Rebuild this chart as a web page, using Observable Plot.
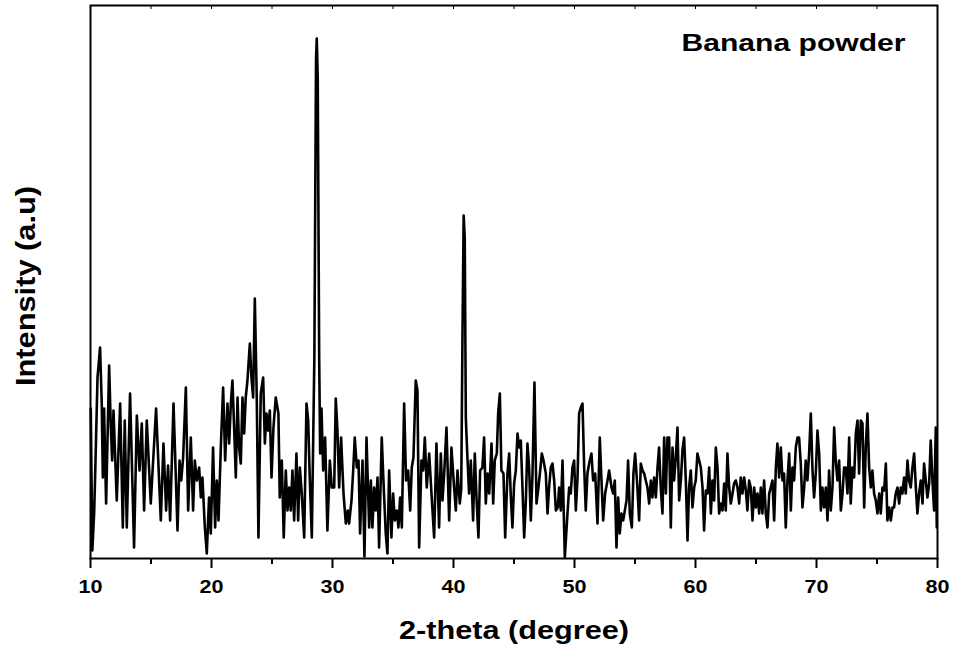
<!DOCTYPE html>
<html><head><meta charset="utf-8">
<script src="https://cdn.jsdelivr.net/npm/d3@7"></script>
<script src="https://cdn.jsdelivr.net/npm/@observablehq/plot@0.6"></script>
<style>body{margin:0;background:#fff}</style>
</head><body><div id="chart"></div>
<script>
const twoTheta = [
10.02,10.15,10.30,10.38,10.58,10.79,10.93,11.02,11.12,11.29,11.54,11.68,11.79,11.90,12.17,12.45,12.67,12.83,13.00,13.27,13.60,13.83,14.05,14.24,14.43,14.65,14.98,15.42,15.81,16.03,16.25,16.41,16.58,16.86,17.19,17.36,17.50,17.65,
17.88,18.07,18.29,18.48,18.62,18.79,18.98,19.12,19.25,19.45,19.61,19.80,19.94,20.13,20.30,20.44,20.58,20.77,20.96,21.13,21.32,21.46,21.60,21.73,21.87,22.01,22.15,22.28,22.42,22.56,22.70,22.83,22.97,23.06,23.17,23.30,23.44,23.58,23.74,23.88,24.07,24.27,24.41,24.54,24.68,24.82,24.96,25.12,
25.31,25.53,25.64,25.81,25.97,26.14,26.28,26.42,26.55,26.69,26.83,27.02,27.16,27.30,27.46,27.66,27.85,27.99,28.12,28.29,28.50,28.64,28.70,28.78,28.90,28.98,29.09,29.23,29.39,29.58,29.78,29.94,30.14,30.27,30.41,30.55,30.71,30.91,31.10,31.26,31.37,31.57,31.71,31.84,32.01,32.15,32.28,32.48,32.64,32.81,33.03,
33.17,33.30,33.44,33.58,33.72,33.85,34.07,34.21,34.40,34.54,34.68,34.87,35.01,35.15,35.31,35.45,35.59,35.73,35.92,36.08,36.25,36.42,36.55,36.69,36.88,37.02,37.16,37.35,37.49,37.63,37.79,37.99,38.18,38.40,38.59,38.81,38.95,39.09,39.23,39.42,39.64,39.83,40.05,40.19,40.33,40.52,40.64,40.74,40.84,40.93,41.02,41.15,
41.29,41.43,41.62,41.76,41.90,42.06,42.20,42.39,42.53,42.67,42.81,42.95,43.14,43.28,43.41,43.58,43.69,43.83,43.96,44.13,44.27,44.46,44.60,44.74,44.87,45.01,45.15,45.29,45.42,45.56,45.70,45.84,45.98,46.11,46.25,46.39,46.53,46.69,46.86,47.02,47.19,47.30,47.44,47.63,47.77,47.90,48.04,48.18,48.32,48.46,48.62,48.73,48.87,49.01,49.20,
49.42,49.56,49.69,49.83,49.97,50.11,50.25,50.38,50.52,50.66,50.80,50.93,51.07,51.21,51.40,51.54,51.71,51.90,52.09,52.23,52.37,52.53,52.73,52.86,53.06,53.19,53.33,53.47,53.61,53.74,53.88,54.02,54.16,54.30,54.43,54.57,54.74,54.87,55.01,55.20,55.34,55.48,55.62,55.76,55.89,56.03,56.17,56.31,56.44,56.58,56.72,
56.86,56.99,57.13,57.27,57.41,57.55,57.68,57.82,57.96,58.10,58.23,58.37,58.51,58.65,58.79,58.92,59.06,59.20,59.34,59.47,59.61,59.75,59.89,60.02,60.16,60.30,60.44,60.58,60.71,60.85,60.99,61.13,61.27,61.40,61.54,61.68,61.82,61.95,62.09,62.23,62.37,62.50,62.64,62.78,62.92,63.06,63.19,63.33,63.47,63.61,63.74,63.88,64.02,64.16,64.29,64.43,64.57,
64.71,64.85,64.98,65.12,65.26,65.40,65.53,65.67,65.81,65.95,66.09,66.22,66.36,66.50,66.64,66.77,66.91,67.05,67.19,67.32,67.46,67.60,67.74,67.88,68.01,68.15,68.29,68.43,68.56,68.70,68.84,68.98,69.11,69.25,69.39,69.53,69.67,69.80,69.94,70.08,70.22,70.36,70.49,70.63,70.77,70.91,71.04,71.18,71.32,71.46,71.59,71.73,71.87,72.01,72.15,72.28,
72.42,72.56,72.70,72.83,72.97,73.11,73.25,73.39,73.52,73.66,73.80,73.94,74.07,74.21,74.35,74.49,74.62,74.76,74.90,75.04,75.18,75.31,75.45,75.59,75.73,75.86,76.00,76.14,76.28,76.41,76.55,76.69,76.83,76.97,77.10,77.24,77.38,77.52,77.65,77.79,77.93,78.07,78.21,78.34,78.48,78.62,78.76,78.89,79.03,79.17,79.31,79.44,79.58,79.72,79.86,79.94
];
const intensity = [
150,8,45,81,181,211,155,81,150,55,193,131,98,148,58,155,31,138,31,165,11,143,88,135,48,138,55,150,38,115,48,93,38,155,28,98,78,100,
171,48,121,48,98,78,91,61,81,31,5,61,25,111,31,78,38,111,171,98,155,115,155,178,131,81,161,111,95,161,125,161,178,195,215,181,161,260,161,21,165,181,115,145,128,148,81,131,
161,145,61,98,21,88,48,71,48,88,38,105,38,91,65,21,155,138,81,21,200,500,520,480,200,105,150,88,121,28,98,71,71,160,128,71,121,65,35,48,35,58,88,121,91,98,25,98,2,121,31,
78,31,71,48,81,11,121,78,25,5,88,21,65,38,48,31,61,31,155,78,88,48,91,101,178,168,11,98,88,121,71,105,65,21,115,31,105,58,85,131,38,111,71,48,88,55,70,220,343,320,140,101,
65,98,38,105,61,21,88,91,121,55,85,65,115,55,98,105,145,165,88,85,21,85,105,61,31,75,88,125,111,118,71,21,58,115,91,38,85,176,55,71,91,105,98,85,45,71,91,95,78,48,51,71,48,98,1,
45,71,65,91,98,48,81,145,151,155,91,48,85,95,105,78,85,35,121,78,38,65,78,88,71,65,78,11,61,25,45,38,48,58,98,45,31,85,105,71,38,95,88,85,78,71,55,78,61,81,61,
91,111,71,45,121,65,121,121,31,111,78,101,131,58,78,108,121,78,18,71,88,51,71,78,105,98,91,71,28,68,65,91,45,78,58,111,91,45,55,48,75,48,105,71,55,65,75,78,71,55,81,65,81,68,48,78,71,
38,71,51,65,45,71,45,78,45,31,65,71,78,38,91,115,81,111,78,85,31,78,105,48,91,78,111,121,121,95,51,71,98,78,105,145,88,61,85,128,105,48,71,51,71,38,88,48,71,131,98,78,98,48,65,91,
91,65,121,55,91,81,125,138,85,138,135,51,111,145,91,71,88,65,58,45,65,45,71,68,95,38,51,38,51,51,65,71,55,71,65,81,65,98,78,71,91,105,71,45,65,78,55,95,78,61,75,118,78,48,131,31
];
const majorTicks = [10, 20, 30, 40, 50, 60, 70, 80];
const minorTicks = [15, 25, 35, 45, 55, 65, 75];
const topTicks = [15, 20, 25, 30, 35, 40, 45, 50, 55, 60, 65, 70, 75];
const xTitle = "2-theta (degree)";
const yTitle = "Intensity (a.u)";
const legendLabel = "Banana powder";

const data = twoTheta.map((t, i) => ({t, v: intensity[i]}));
const noLabel = () => "";

const chart = Plot.plot({
  width: 953, height: 650,
  marginLeft: 90, marginRight: 16, marginTop: 5, marginBottom: 92,
  style: {fontFamily: '"Liberation Sans", Arial, sans-serif', fontWeight: "bold", background: "#fff", color: "#000"},
  x: {domain: [10, 80]},
  y: {domain: [0, 553], axis: null},
  marks: [
    Plot.axisX(majorTicks, {tickSize: 10, tickPadding: 11, fontSize: 19, fontWeight: "bold", label: null, strokeWidth: 2}),
    Plot.axisX(minorTicks, {tickSize: 6, tickFormat: noLabel, label: null, strokeWidth: 2}),
    Plot.axisX(topTicks, {anchor: "top", tickSize: -3, tickFormat: noLabel, label: null, strokeWidth: 1}),
    Plot.line(data, {x: "t", y: "v", stroke: "#000", strokeWidth: 2.6}),
    Plot.frame({stroke: "#000", strokeWidth: 2}),
    Plot.text([legendLabel], {text: d => d, frameAnchor: "top-right", dx: -32, dy: 38, textAnchor: "end", lineAnchor: "middle", fontSize: 23, fontWeight: "bold", fill: "#000"}),
    Plot.text([xTitle], {text: d => d, frameAnchor: "bottom", dy: 72, textAnchor: "middle", lineAnchor: "middle", fontSize: 25, fontWeight: "bold", fill: "#000"}),
    Plot.text([yTitle], {text: d => d, frameAnchor: "left", dx: -64, dy: 4, rotate: -90, textAnchor: "middle", lineAnchor: "middle", fontSize: 27, fontWeight: "bold", fill: "#000"})
  ]
});

// widen texts to match the reference's horizontally stretched lettering
function stretchEl(t, len) {
  t.setAttribute("textLength", len);
  t.setAttribute("lengthAdjust", "spacingAndGlyphs");
}
chart.querySelectorAll("text").forEach(t => {
  const s = t.textContent.trim();
  if (/^\d+$/.test(s)) stretchEl(t, 24);
  else if (s === legendLabel) stretchEl(t, 224);
  else if (s === xTitle) stretchEl(t, 230);
  else if (s === yTitle) stretchEl(t, 200);
});
document.getElementById("chart").appendChild(chart);
</script>
</body></html>
